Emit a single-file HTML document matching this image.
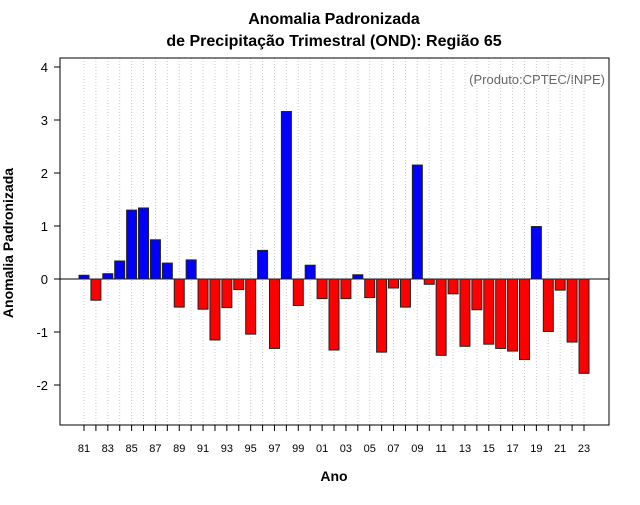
<!DOCTYPE html>
<html><head><meta charset="utf-8"><style>
body{margin:0;background:#fff;font-family:"Liberation Sans",sans-serif}
</style></head><body>
<svg width="640" height="500" xmlns="http://www.w3.org/2000/svg">
<text x="334" y="24" text-anchor="middle" font-size="16" font-weight="bold">Anomalia Padronizada</text>
<text x="334" y="46" text-anchor="middle" font-size="16" font-weight="bold">de Precipitação Trimestral (OND): Região 65</text>
<text x="605" y="84" text-anchor="end" font-size="13" fill="#666">(Produto:CPTEC/INPE)</text>
<text transform="translate(13,243) rotate(-90)" text-anchor="middle" font-size="14" font-weight="bold">Anomalia Padronizada</text>
<text x="334" y="481" text-anchor="middle" font-size="14" font-weight="bold">Ano</text>
<g id="grid"></g><g id="bars"></g><g id="axes"></g>
<rect x="60" y="58" width="549" height="367" fill="none" stroke="#000" stroke-width="1"/>
</svg>
<script>
const years=[1981,1982,1983,1984,1985,1986,1987,1988,1989,1990,1991,1992,1993,1994,1995,1996,1997,1998,1999,2000,2001,2002,2003,2004,2005,2006,2007,2008,2009,2010,2011,2012,2013,2014,2015,2016,2017,2018,2019,2020,2021,2022,2023];
const values=[0.07,-0.40,0.10,0.34,1.30,1.34,0.74,0.30,-0.53,0.36,-0.57,-1.15,-0.54,-0.20,-1.04,0.54,-1.31,3.16,-0.50,0.26,-0.37,-1.34,-0.37,0.08,-0.35,-1.38,-0.17,-0.53,2.15,-0.10,-1.44,-0.28,-1.27,-0.58,-1.23,-1.31,-1.36,-1.52,0.99,-0.99,-0.21,-1.19,-1.78];
const yTicks=[-2,-1,0,1,2,3,4];
const NS="http://www.w3.org/2000/svg";
const x=i=>84+i*11.905;
const y=v=>279-v*53;
const grid=document.getElementById('grid'),bars=document.getElementById('bars'),axes=document.getElementById('axes');
function mk(tag,attrs,parent){const e=document.createElementNS(NS,tag);for(const k in attrs)e.setAttribute(k,attrs[k]);parent.appendChild(e);return e;}
years.forEach((yr,i)=>{
  const g=mk('line',{x1:x(i),x2:x(i),y1:58,y2:425,stroke:'#ccc','stroke-dasharray':'1,2','stroke-width':1},grid);
  
  
  const t=mk('line',{x1:x(i),x2:x(i),y1:425,y2:431,stroke:'#000'},axes);
  
  
  if(i%2===0){const l=mk('text',{x:x(i),y:452,'text-anchor':'middle','font-size':11},axes);l.textContent=String(yr%100).padStart(2,'0');
    
    }
});
mk('line',{x1:60,x2:609,y1:y(0),y2:y(0),stroke:'#000'},grid);
values.forEach((v,i)=>{
  const top=Math.min(y(v),y(0)),h=Math.abs(y(v)-y(0));
  const b=mk('rect',{x:x(i)-5,y:top,width:10,height:h,fill:v>=0?'#0000ff':'#ff0000',stroke:'#222','stroke-width':1},bars);
  
  
});
yTicks.forEach(v=>{
  const t=mk('line',{x1:54,x2:60,y1:y(v),y2:y(v),stroke:'#000'},axes);
  
  
  const l=mk('text',{x:48,y:y(v)+5,'text-anchor':'end','font-size':13},axes);l.textContent=v;
  
  
});
</script>
</body></html>
